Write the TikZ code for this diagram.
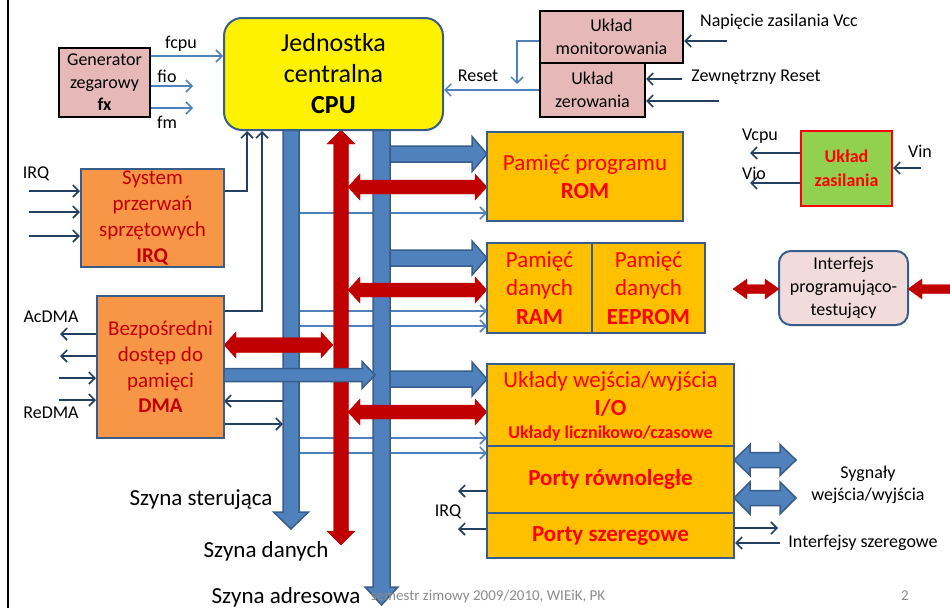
\documentclass[tikz,border=0pt]{standalone}
\usepackage{fontspec}
\setmainfont{Carlito}
\usetikzlibrary{arrows.meta}
\definecolor{busblue}{HTML}{4F81BD}
\definecolor{busedge}{HTML}{385D8A}
\definecolor{darkred}{HTML}{C00000}
\definecolor{navyline}{HTML}{243F60}
\definecolor{pinkfill}{HTML}{E6B9B8}
\definecolor{orangefill}{HTML}{F79646}
\definecolor{goldfill}{HTML}{FFC000}
\definecolor{greenfill}{HTML}{92D050}
\definecolor{lightpink}{HTML}{F2DCDB}
\definecolor{footgray}{HTML}{8C8C8C}
% fat arrows: x1 x2 y bodyhalf headhalf headlen style
\newcommand{\fatright}[7]{\filldraw[#7] (#1,{#3-#4}) -- ({#2-#6},{#3-#4}) -- ({#2-#6},{#3-#5}) -- (#2,#3) -- ({#2-#6},{#3+#5}) -- ({#2-#6},{#3+#4}) -- (#1,{#3+#4}) -- cycle;}
\newcommand{\fatboth}[7]{\filldraw[#7] (#1,#3) -- ({#1+#6},{#3-#5}) -- ({#1+#6},{#3-#4}) -- ({#2-#6},{#3-#4}) -- ({#2-#6},{#3-#5}) -- (#2,#3) -- ({#2-#6},{#3+#5}) -- ({#2-#6},{#3+#4}) -- ({#1+#6},{#3+#4}) -- ({#1+#6},{#3+#5}) -- cycle;}
% vertical: x y1 y2 bodyhalf headhalf headlen style
\newcommand{\fatdown}[7]{\filldraw[#7] ({#1-#4},#2) -- ({#1+#4},#2) -- ({#1+#4},{#3-#6}) -- ({#1+#5},{#3-#6}) -- (#1,#3) -- ({#1-#5},{#3-#6}) -- ({#1-#4},{#3-#6}) -- cycle;}
\newcommand{\fatvboth}[7]{\filldraw[#7] (#1,#2) -- ({#1+#5},{#2+#6}) -- ({#1+#4},{#2+#6}) -- ({#1+#4},{#3-#6}) -- ({#1+#5},{#3-#6}) -- (#1,#3) -- ({#1-#5},{#3-#6}) -- ({#1-#4},{#3-#6}) -- ({#1-#4},{#2+#6}) -- ({#1-#5},{#2+#6}) -- cycle;}
\tikzset{
  box/.style={line width=2pt, inner sep=0pt, align=center},
  barb/.style={-{Straight Barb[length=6pt,width=12pt]}},
  dk/.style={draw=navyline, line width=1.6pt},
  lb/.style={draw=busblue, line width=1.5pt},
  bluefat/.style={fill=busblue, draw=busedge, line width=1.5pt, line join=miter},
  redfat/.style={fill=darkred, draw=darkred, line width=0.4pt},
  lbl/.style={inner sep=0pt, font=\fontsize{18}{22}\selectfont, text=black},
  big/.style={inner sep=0pt, font=\fontsize{23}{28}\selectfont, text=black},
}
\begin{document}
\begin{tikzpicture}[x=1pt,y=-1pt]
\useasboundingbox (0,0) rectangle (950,608);
\clip (0,0) rectangle (950,608);
\draw[line width=2pt] (8,0) -- (8,608);

% ---- boxes ----
\node[box, draw=black, fill=pinkfill, minimum width=91pt, minimum height=69pt, font=\fontsize{18}{22.5}\selectfont] (gen) at (104.5,82.5) {Generator\\zegarowy\\\textbf{fx}};
\node[box, draw=black, fill=pinkfill, minimum width=143pt, minimum height=52pt, font=\fontsize{18}{23}\selectfont] (mon) at (611.5,37) {Układ\\monitorowania};
\node[box, draw=black, fill=pinkfill, minimum width=105pt, minimum height=54pt, font=\fontsize{18}{23}\selectfont] (zer) at (592.5,90) {Układ\\zerowania};
\node[box, draw=red, fill=greenfill, minimum width=91pt, minimum height=75pt, font=\fontsize{18}{24}\selectfont\bfseries, text=red] (zas) at (846.5,168.5) {Układ\\zasilania};
\node[box, draw=busedge, fill=lightpink, rounded corners=12pt, minimum width=129pt, minimum height=74pt, font=\fontsize{18}{23}\selectfont] (intf) at (843.5,288) {Interfejs\\programująco-\\testujący};

% ---- thin lines from control bus ----
\foreach \yy in {213,311,326,438,453}
  \coordinate (cb\yy) at (299,\yy);
\coordinate (romw) at (487,0);
\foreach \yy in {213,311,326,438,453}
  \draw[lb,barb] (cb\yy) -- (romw |- cb\yy);
\coordinate (dmaR) at (224,0);
\coordinate (cbL) at (283,0);
\draw[dk,barb] (cbL |- 0,401) -- (dmaR |- 0,401);
\draw[dk,barb] (dmaR |- 0,424) -- (cbL |- 0,424);

% ---- buses ----
\fatdown{291}{128}{529}{8}{17.5}{17}{bluefat}
\fatdown{381.5}{128}{605}{8.5}{16.5}{18}{bluefat}
\fatvboth{341}{130}{545}{7.5}{14}{14}{redfat}

% ---- fat horizontal arrows ----
\fatboth{348}{487}{187}{7}{13}{12}{redfat}
\fatboth{348}{487}{290}{7}{13}{12}{redfat}
\fatboth{348}{487}{412}{7}{13}{12}{redfat}
\fatright{390}{487}{154}{8}{17.5}{15}{bluefat}
\fatright{390}{487}{258}{8}{17}{15}{bluefat}
\fatright{390}{487}{379}{8}{17}{15}{bluefat}
\fatboth{224}{333}{345}{7.5}{13}{12}{redfat}
\fatright{224}{375}{375}{6.5}{13.5}{13}{bluefat}
\fatboth{734}{796}{460}{7.5}{15.5}{16}{bluefat}
\fatboth{734}{796}{498}{7.5}{16}{16}{bluefat}
\fatboth{733}{779}{289}{4.5}{10}{14}{redfat}
\fatboth{908}{966}{289}{4.5}{10}{14}{redfat}

% ---- remaining boxes ----
\node[box, draw=busedge, fill=yellow, rounded corners=18pt, minimum width=219pt, minimum height=112pt, font=\fontsize{26}{31}\selectfont] (cpu) at (333.5,74) {Jednostka\\centralna\\\textbf{CPU}};
\node[box, draw=busedge, fill=orangefill, minimum width=143pt, minimum height=98pt, text=darkred, font=\fontsize{21}{25.7}\selectfont] (irq) at (152.5,218) {System\\przerwań\\sprzętowych\\\textbf{IRQ}};
\node[box, draw=busedge, fill=orangefill, minimum width=127pt, minimum height=142pt, text=darkred, font=\fontsize{21}{25.7}\selectfont] (dma) at (160.5,367) {Bezpośredni\\dostęp do\\pamięci\\\textbf{DMA}};
\node[box, draw=busedge, fill=goldfill, minimum width=196pt, minimum height=89pt, text=red, font=\fontsize{23}{28}\selectfont] (rom) at (585,176.5) {Pamięć programu\\\textbf{ROM}};
\node[box, draw=busedge, fill=goldfill, minimum width=105pt, minimum height=90pt, text=red, font=\fontsize{23}{28.5}\selectfont] (ram) at (539.5,288) {Pamięć\\danych\\\textbf{RAM}};
\node[box, draw=busedge, fill=goldfill, minimum width=113pt, minimum height=90pt, text=red, font=\fontsize{23}{28.5}\selectfont] (eep) at (648.5,288) {Pamięć\\danych\\\textbf{EEPROM}};
\node[box, draw=busedge, fill=goldfill, minimum width=247pt, minimum height=82pt] (io) at (610.5,405) {};
\node[box, draw=busedge, fill=goldfill, minimum width=247pt, minimum height=67pt, text=red, font=\fontsize{23}{28}\selectfont\bfseries] (par) at (610.5,479.5) {Porty równoległe};
\node[box, draw=busedge, fill=goldfill, minimum width=247pt, minimum height=45pt, text=red, font=\fontsize{23}{28}\selectfont\bfseries] (ser) at (610.5,535.5) {Porty szeregowe};
\node[inner sep=0pt, text=red, font=\fontsize{23}{28}\selectfont] (iot1) at (610.5,381) {Układy wejścia/wyjścia};
\node[inner sep=0pt, text=red, font=\fontsize{23}{28}\selectfont\bfseries] (iot2) at (610.5,408) {I/O};
\node[inner sep=0pt, text=red, font=\fontsize{18}{22}\selectfont\bfseries] (iot3) at (610.5,434) {Układy licznikowo/czasowe};

% ---- thin connectors ----
\draw[lb,barb] (gen.east |- 0,56) -- (cpu.west |- 0,56);
\coordinate (fioend) at (193,86);
\coordinate (fmend) at (193,108);
\draw[lb,barb] (gen.east |- fioend) -- (fioend);
\draw[lb,barb] (gen.east |- fmend) -- (fmend);
\draw[dk,barb] (irq.east |- 0,191) -| (cpu.south -| 247,0);
\draw[dk,barb] (dma.east |- 0,311) -| (cpu.south -| 262,0);
\foreach \yy in {191,212,236}{
  \coordinate (irqin\yy) at (29,\yy);
  \draw[dk,barb] (irqin\yy) -- (irq.west |- irqin\yy);}
\foreach \yy in {334,356}{
  \coordinate (dmaout\yy) at (60,\yy);
  \draw[dk,barb] (dma.west |- dmaout\yy) -- (dmaout\yy);}
\foreach \yy in {378,400}{
  \coordinate (dmain\yy) at (59,\yy);
  \draw[dk,barb] (dmain\yy) -- (dma.west |- dmain\yy);}
\draw[lb,barb] (zer.west |- 0,90) -- (cpu.east |- 0,90);
\draw[lb,barb] (mon.west |- 0,41) -| (517,84);
\coordinate (vccin) at (727,41);
\draw[dk,barb] (vccin) -- (mon.east |- vccin);
\coordinate (zr1) at (682,79);
\coordinate (zr2) at (719,101);
\draw[dk,barb] (zr1) -- (zer.east |- zr1);
\draw[dk,barb] (zr2) -- (zer.east |- zr2);
\coordinate (vcpu) at (750,153);
\coordinate (vio) at (750,183);
\coordinate (vin) at (921,168);
\draw[dk,barb] (zas.west |- vcpu) -- (vcpu);
\draw[dk,barb] (zas.west |- vio) -- (vio);
\draw[dk,barb] (vin) -- (zas.east |- vin);
\coordinate (pirq1) at (458,491);
\coordinate (pirq2) at (458,529);
\draw[dk,barb] (par.west |- pirq1) -- (pirq1);
\draw[dk,barb] (ser.west |- pirq2) -- (pirq2);
\coordinate (sout) at (778,528);
\coordinate (sin) at (780,543);
\draw[dk,barb] (ser.east |- sout) -- (sout);
\draw[dk,barb] (sin) -- (ser.east |- sin);

% ---- labels ----
\node[lbl] (l1) at (181,44) {fcpu};
\node[lbl] (l2) at (167,76) {fio};
\node[lbl] (l3) at (167,122) {fm};
\node[lbl] (l4) at (478,76) {Reset};
\node[lbl] (l5) at (779,22) {Napięcie zasilania Vcc};
\node[lbl] (l6) at (756,77) {Zewnętrzny Reset};
\node[lbl] (l7) at (760,136) {Vcpu};
\node[lbl] (l8) at (754,173) {Vio};
\node[lbl] (l9) at (920,151) {Vin};
\node[lbl] (l10) at (36,174) {IRQ};
\node[lbl] (l11) at (51,317) {AcDMA};
\node[lbl] (l12) at (51,413) {ReDMA};
\node[lbl] (l13) at (448,512) {IRQ};
\node[lbl, align=center, font=\fontsize{18}{22}\selectfont] (l14) at (868,485) {Sygnały\\wejścia/wyjścia};
\node[lbl] (l15) at (863,543) {Interfejsy szeregowe};
\node[big] (l16) at (201,500) {Szyna sterująca};
\node[big] (l17) at (266,551) {Szyna danych};
\node[big] (l18) at (286,597) {Szyna adresowa};
\node[inner sep=0pt, text=footgray, font=\fontsize{15}{18}\selectfont] (l19) at (488,596) {semestr zimowy 2009/2010, WIEiK, PK};
\node[inner sep=0pt, text=footgray, font=\fontsize{15}{18}\selectfont] (l20) at (905,596) {2};
\end{tikzpicture}
\end{document}
